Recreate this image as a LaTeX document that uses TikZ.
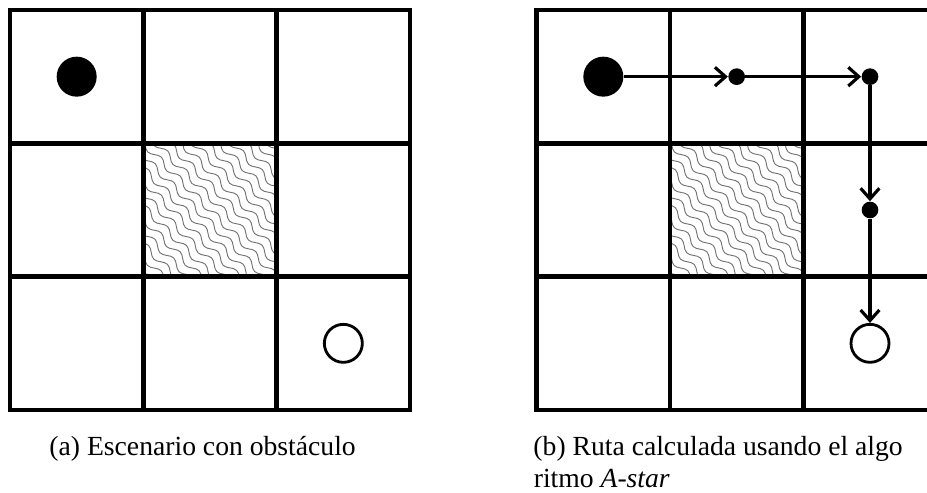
\documentclass[tikz,border=0pt]{standalone}
\usepackage{fontspec}
\setmainfont{Liberation Serif}
\usetikzlibrary{arrows.meta,positioning,decorations.pathmorphing}

\begin{document}
\begin{tikzpicture}[
  every node/.style={font=\fontsize{11.8}{13.7}\selectfont},
  cellgrid/.style={line width=1.9pt, line cap=rect},
  wave/.style={draw=black!55, line width=0.4pt, decorate,
    decoration={snake, segment length=0.4cm, amplitude=0.045cm}},
  robot/.style={circle, fill=black, inner sep=0pt, minimum size=0.6cm},
  waypoint/.style={circle, fill=black, inner sep=0pt, minimum size=0.25cm},
  goal/.style={circle, draw=black, line width=1.2pt, inner sep=0pt, minimum size=0.57cm},
  arr/.style={-{Straight Barb[length=4.5pt,width=8pt]}, line width=1.35pt}
]
  \useasboundingbox (0,0) rectangle (13.905,-7.395);
  \clip (0,0) rectangle (13.905,-7.395);

  \foreach \gx in {0.15,8.05} {
    \begin{scope}[shift={(\gx,-6.15)}]
      \begin{scope}
        \clip (2,2) rectangle (4,4);
        \foreach \k in {-11,...,11}
          \draw[wave] (3+\k*0.0948-1.131, 3+\k*0.0948+1.131) -- ++(2.263,-2.263);
      \end{scope}
      \draw[cellgrid] (0,0) grid[step=2] (6,6);
    \end{scope}
  }

  \node[robot] (starta) at (1.15,-1.15) {};
  \node[goal]  (goala)  at (5.15,-5.15) {};

  \node[robot]    (startb) at (9.05,-1.15) {};
  \node[waypoint] (wp1)    at (11.05,-1.15) {};
  \node[waypoint] (wp2)    at (13.05,-1.15) {};
  \node[waypoint] (wp3)    at (13.05,-3.15) {};
  \node[goal]     (goalb)  at (13.05,-5.15) {};

  \draw[arr] (startb) -- (wp1);
  \draw[arr] (wp1) -- (wp2);
  \draw[arr] (wp2) -- (wp3);
  \draw[arr] (wp3) -- (goalb);

  \node[anchor=base west, inner sep=0pt] (capa) at (0.735,-6.84) {(a) Escenario con obstáculo};
  \node[anchor=base west, inner sep=0pt] (capb) at (7.995,-6.83) {(b) Ruta calculada usando el algo};
  \node[anchor=base west, inner sep=0pt] (capb2) at (8.0,-7.31) {ritmo \textit{A-star}};
\end{tikzpicture}
\end{document}
